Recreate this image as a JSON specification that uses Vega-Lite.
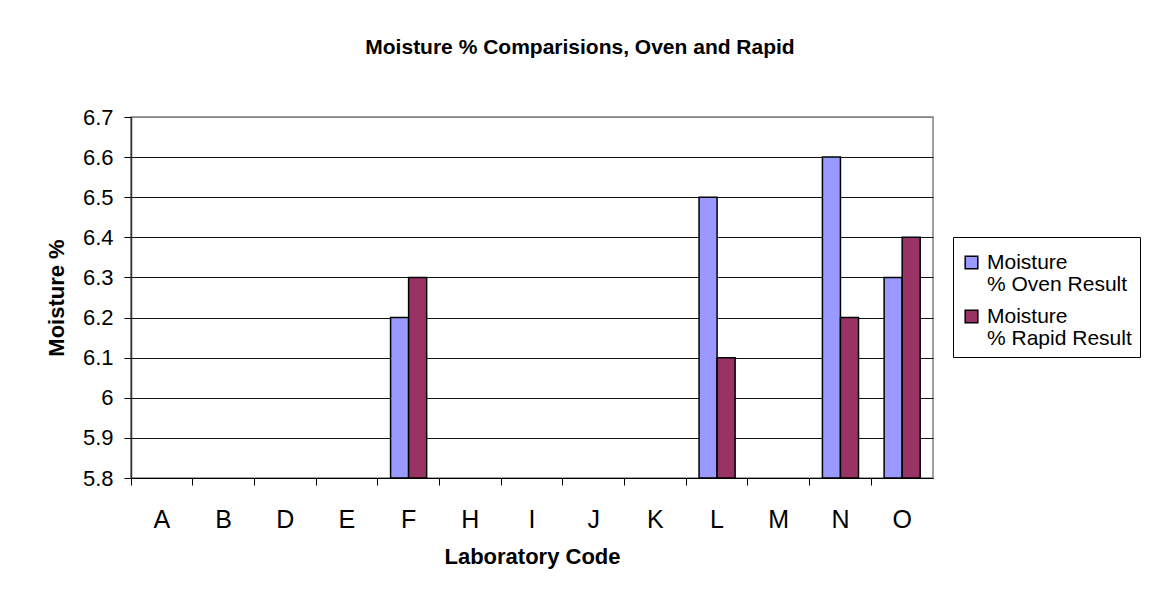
{
  "$schema": "https://vega.github.io/schema/vega-lite/v6.json",
  "width": 802,
  "height": 361,
  "autosize": "none",
  "padding": {"left": 131, "top": 117, "right": 218, "bottom": 127},
  "background": "white",
  "title": {
    "text": "Moisture % Comparisions, Oven and Rapid",
    "font": "Liberation Sans",
    "fontSize": 21,
    "fontWeight": "bold",
    "color": "black",
    "anchor": "middle",
    "dx": 48,
    "offset": 48
  },
  "data": {
    "values": [
      {"lab": "F", "series": "Moisture % Oven Result", "value": 6.2},
      {"lab": "F", "series": "Moisture % Rapid Result", "value": 6.3},
      {"lab": "L", "series": "Moisture % Oven Result", "value": 6.5},
      {"lab": "L", "series": "Moisture % Rapid Result", "value": 6.1},
      {"lab": "N", "series": "Moisture % Oven Result", "value": 6.6},
      {"lab": "N", "series": "Moisture % Rapid Result", "value": 6.2},
      {"lab": "O", "series": "Moisture % Oven Result", "value": 6.3},
      {"lab": "O", "series": "Moisture % Rapid Result", "value": 6.4}
    ]
  },
  "mark": {"type": "bar", "stroke": "black", "strokeWidth": 1.5},
  "encoding": {
    "x": {
      "field": "lab",
      "type": "nominal",
      "scale": {"domain": ["A","B","D","E","F","H","I","J","K","L","M","N","O"], "paddingInner": 0, "paddingOuter": 0},
      "axis": {
        "title": "Laboratory Code",
        "labelAngle": 0,
        "bandPosition": 0,
        "tickSize": 7,
        "tickColor": "black",
        "domainColor": "black",
        "labelFont": "Liberation Sans",
        "labelFontSize": 25,
        "labelColor": "black",
        "labelPadding": 22,
        "titleFont": "Liberation Sans",
        "titleFontSize": 22,
        "titleFontWeight": "bold",
        "titleColor": "black",
        "titlePadding": 14
      }
    },
    "xOffset": {
      "field": "series",
      "type": "nominal",
      "scale": {"paddingInner": 0, "paddingOuter": 0.71}
    },
    "y": {
      "field": "value",
      "type": "quantitative",
      "scale": {"domain": [5.8, 6.7], "nice": false, "zero": false},
      "axis": {
        "title": "Moisture %",
        "values": [5.8, 5.9, 6.0, 6.1, 6.2, 6.3, 6.4, 6.5, 6.6, 6.7],
        "labelExpr": "format(datum.value, '.1~f')",
        "tickSize": 7,
        "tickColor": "black",
        "domainColor": "#333333",
        "domainWidth": 1.5,
        "grid": true,
        "gridColor": {"condition": {"test": "datum.value >= 6.69", "value": "#808080"}, "value": "#111111"},
        "gridWidth": 1,
        "labelFont": "Liberation Sans",
        "labelFontSize": 22,
        "labelColor": "black",
        "labelPadding": 11,
        "titleFont": "Liberation Sans",
        "titleFontSize": 22,
        "titleFontWeight": "bold",
        "titleColor": "black",
        "titlePadding": 14
      }
    },
    "y2": {"datum": 5.8},
    "color": {
      "field": "series",
      "type": "nominal",
      "scale": {"domain": ["Moisture % Oven Result", "Moisture % Rapid Result"], "range": ["#9999FF", "#993366"]},
      "legend": {
        "title": " ",
        "titleFontSize": 6,
        "titlePadding": 1,
        "orient": "none",
        "legendX": 822,
        "legendY": 120,
        "strokeColor": "black",
        "fillColor": "white",
        "padding": 8,
        "symbolType": "square",
        "symbolSize": 160,
        "symbolStrokeColor": "black",
        "symbolStrokeWidth": 1.5,
        "symbolOpacity": 1,
        "labelFont": "Liberation Sans",
        "labelFontSize": 21,
        "labelColor": "black",
        "labelLimit": 300,
        "labelOffset": 5,
        "labelExpr": "['Moisture', slice(datum.label, 9)]",
        "rowPadding": 10,
        "encode": {"labels": {"update": {"lineHeight": {"value": 22}}}}
      }
    }
  },
  "config": {
    "view": {"stroke": "#808080", "strokeWidth": 1.5}
  }
}
